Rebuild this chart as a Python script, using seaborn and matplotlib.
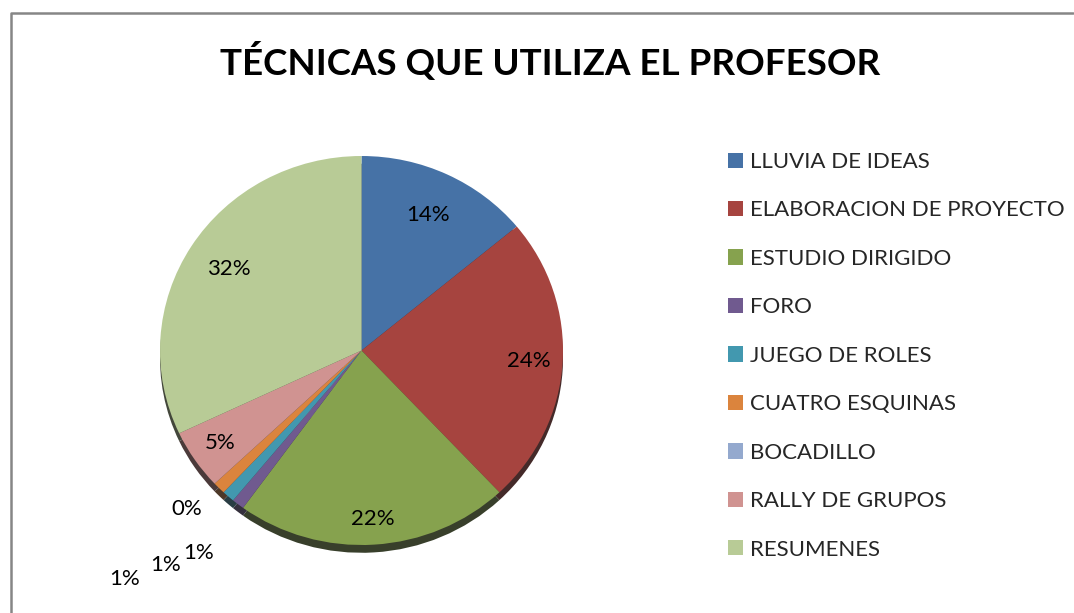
import matplotlib
matplotlib.use("Agg")
import matplotlib.pyplot as plt
import seaborn as sns
import numpy as np

# datos del grafico
tecnicas = ["LLUVIA DE IDEAS", "ELABORACION DE PROYECTO", "ESTUDIO DIRIGIDO", "FORO",
            "JUEGO DE ROLES", "CUATRO ESQUINAS", "BOCADILLO", "RALLY DE GRUPOS", "RESUMENES"]
porcentajes = [14, 24, 22, 1, 1, 1, 0, 5, 32]
etiquetas = ["14%", "24%", "22%", "1%", "1%", "1%", "0%", "5%", "32%"]
titulo = "TÉCNICAS QUE UTILIZA EL PROFESOR"

colores = ["#4672A6", "#A6443F", "#86A24E", "#705A8F", "#4298AF", "#DB843D",
           "#94A9CE", "#D09391", "#B8CB96"]
# distancia de cada etiqueta al centro (en radios)
dist_etiq = [0.77, 0.83, 0.87, 1.32, 1.47, 1.66, 1.19, 0.85, 0.78]

sns.set_theme(style="white")
plt.rcParams["font.family"] = ["Lato", "DejaVu Sans"]

W, H = 1074, 613
fig = plt.figure(figsize=(W / 100, H / 100), dpi=100)

# pie algo achatado: centro (361.5, 350.5) px, radios 201.5 x 194.5 px
cx, cy, rx, ry = 361.5, 350.5, 201.5, 194.5
ax = fig.add_axes([(cx - rx) / W, (H - cy - ry) / H, 2 * rx / W, 2 * ry / H])

# sombra inferior (efecto 3D)
sombra = [sns.dark_palette(c, n_colors=6)[1] for c in colores]
ax.pie(porcentajes, colors=sombra, startangle=90, counterclock=False,
       center=(0, -0.04), wedgeprops=dict(linewidth=0))
wedges, _ = ax.pie(porcentajes, colors=colores, startangle=90, counterclock=False,
                   wedgeprops=dict(linewidth=0))
ax.set_aspect("auto")
ax.set_xlim(-1, 1)
ax.set_ylim(-1, 1)
ax.axis("off")

for w, lab, d in zip(wedges, etiquetas, dist_etiq):
    ang = np.deg2rad((w.theta1 + w.theta2) / 2)
    ax.text(d * np.cos(ang), d * np.sin(ang), lab, ha="center", va="center",
            fontsize=16, color="black", clip_on=False)

fig.text(550 / W, 1 - 61 / H, titulo, ha="center", va="center",
         fontsize=26.5, fontweight="bold", color="black")

leg = fig.legend(wedges, tecnicas, loc="upper left", bbox_to_anchor=(708 / W, 1 - 132 / H),
                 frameon=False, fontsize=16, handlelength=0.68, handleheight=0.68,
                 handletextpad=0.3, labelspacing=1.28)

# borde del area del grafico
borde = plt.Line2D([11 / W, 11 / W, 1073 / W], [0, 1 - 13 / H, 1 - 13 / H],
                   transform=fig.transFigure, color="#868686", linewidth=1.8)
fig.add_artist(borde)

fig.savefig("out.png", dpi=100, facecolor="white")
